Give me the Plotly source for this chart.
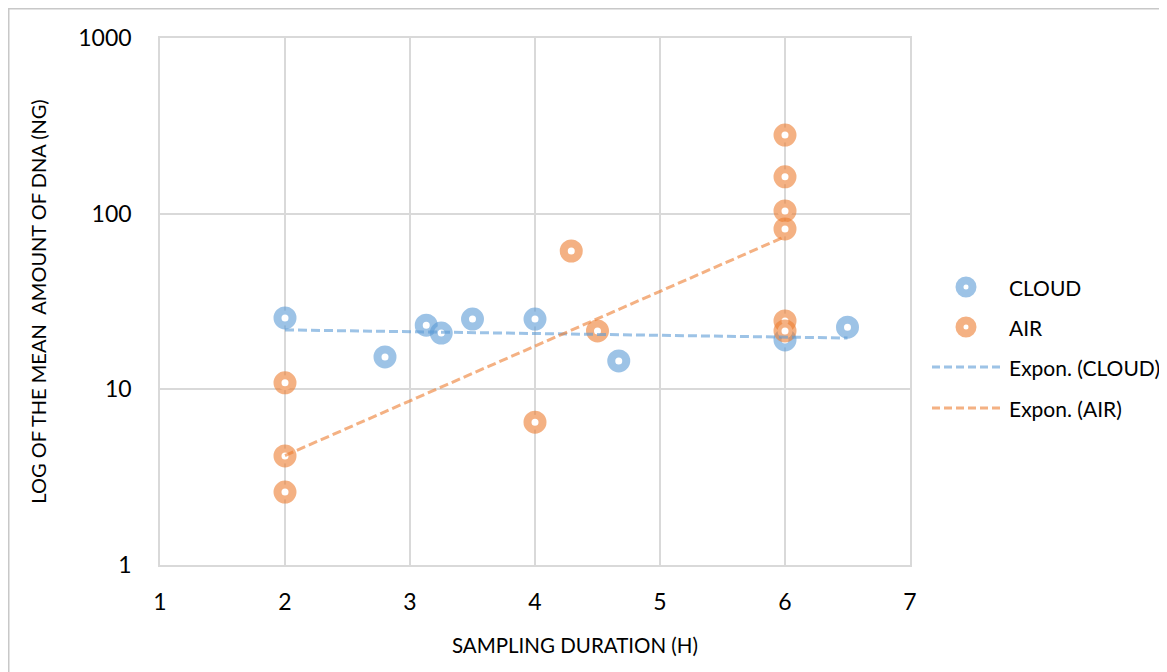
import plotly.graph_objects as go

# ---- data ----
cloud_x = [2, 2.8, 3.13, 3.25, 3.5, 4, 4.67, 6, 6.5]
cloud_y = [25.5, 15.3, 23.2, 20.9, 25.1, 25.1, 14.5, 19.1, 22.6]

air_x = [2, 2, 2, 4, 4.29, 4.5, 6, 6, 6, 6, 6, 6]
air_y = [10.9, 4.18, 2.6, 6.5, 61.3, 21.5, 280, 162, 103.6, 81.8, 24.5, 21.5]

# exponential trendline end points
cloud_trend_x = [2, 6.5]
cloud_trend_y = [21.8, 19.6]
air_trend_x = [2, 6]
air_trend_y = [4.2, 74]

x_ticks = [1, 2, 3, 4, 5, 6, 7]
y_ticks = [1, 10, 100, 1000]
y_ticklabels = ["1", "10", "100", "1000"]

legend_names = ["CLOUD", "AIR", "Expon. (CLOUD)", "Expon. (AIR)"]
x_title = "SAMPLING DURATION (H)"
y_title = "LOG OF THE MEAN\u00a0\u00a0AMOUNT OF DNA (NG)"

BLUE = "rgba(91,155,213,0.6)"
ORANGE = "rgba(237,125,49,0.6)"
FONT = "Lato"

# plot area in screen pixels (page has an 8px body margin)
PX0, PX1, PY0, PY1 = 160, 910, 38, 565


def px2paper_x(px):
    return (px - PX0) / (PX1 - PX0)


def px2paper_y(py):
    return (PY1 - py) / (PY1 - PY0)


fig = go.Figure()

fig.add_trace(go.Scatter(
    x=cloud_x, y=cloud_y, mode="markers", name=legend_names[0],
    marker=dict(symbol="circle", size=15, color="white",
                line=dict(color=BLUE, width=8)),
))
fig.add_trace(go.Scatter(
    x=air_x, y=air_y, mode="markers", name=legend_names[1],
    marker=dict(symbol="circle", size=15, color="white",
                line=dict(color=ORANGE, width=8)),
))
fig.add_trace(go.Scatter(
    x=cloud_trend_x, y=cloud_trend_y, mode="lines", name=legend_names[2],
    line=dict(color=BLUE, width=3, dash="9px,4px"),
))
fig.add_trace(go.Scatter(
    x=air_trend_x, y=air_trend_y, mode="lines", name=legend_names[3],
    line=dict(color=ORANGE, width=3, dash="9px,4px"),
))

# outer chart border
fig.add_shape(type="rect", xref="paper", yref="paper",
              x0=px2paper_x(8.5), x1=px2paper_x(1185),
              y0=-0.4, y1=px2paper_y(8.5),
              line=dict(color="#c8c8c8", width=2), fillcolor="rgba(0,0,0,0)",
              layer="below")

# ---- manual legend ----
leg_rows_y = [287, 327, 367, 408]
leg_colors = [BLUE, ORANGE, BLUE, ORANGE]
annotations = []
for i, (name, col, ry) in enumerate(zip(legend_names, leg_colors, leg_rows_y)):
    yp = px2paper_y(ry)
    if i < 2:
        fig.add_shape(type="circle", xref="paper", yref="paper",
                      xsizemode="pixel", ysizemode="pixel",
                      xanchor=px2paper_x(966), yanchor=yp,
                      x0=-6.5, x1=6.5, y0=-6.5, y1=6.5,
                      line=dict(color=col, width=8), fillcolor="white")
    else:
        fig.add_shape(type="line", xref="paper", yref="paper",
                      x0=px2paper_x(932), x1=px2paper_x(1000), y0=yp, y1=yp,
                      line=dict(color=col, width=3, dash="8px,4px"))
    annotations.append(dict(x=px2paper_x(1007), y=yp, xref="paper", yref="paper",
                            text=name, showarrow=False, xanchor="left", yanchor="middle",
                            font=dict(family=FONT, size=21, color="#000000")))

# x-axis title (offset to the right, as in the reference)
annotations.append(dict(x=px2paper_x(575), y=px2paper_y(645), xref="paper", yref="paper",
                        text=x_title, showarrow=False, xanchor="center", yanchor="middle",
                        font=dict(family=FONT, size=20.5, color="#000000")))

fig.update_layout(
    width=1159, height=664,
    margin=dict(l=152, r=257, t=30, b=107),
    paper_bgcolor="white", plot_bgcolor="white",
    font=dict(family=FONT, size=20, color="#000000"),
    showlegend=False,
    annotations=annotations,
    xaxis=dict(range=[1, 7], tickvals=x_ticks, ticks="", ticklabelstandoff=16,
               showgrid=True, gridcolor="#d9d9d9", gridwidth=1.5,
               showline=True, linecolor="#d9d9d9", linewidth=1.5, mirror=True,
               zeroline=False, automargin=False,
               tickfont=dict(family=FONT, size=23)),
    yaxis=dict(type="log", range=[0, 3], tickvals=y_ticks, ticktext=y_ticklabels, ticks="",
               ticklabelstandoff=22,
               showgrid=True, gridcolor="#d9d9d9", gridwidth=1.5,
               showline=True, linecolor="#d9d9d9", linewidth=1.5, mirror=True,
               zeroline=False, automargin=False,
               tickfont=dict(family=FONT, size=23),
               title=dict(text=y_title, font=dict(family=FONT, size=20), standoff=26)),
)

fig.write_html("out.html")
